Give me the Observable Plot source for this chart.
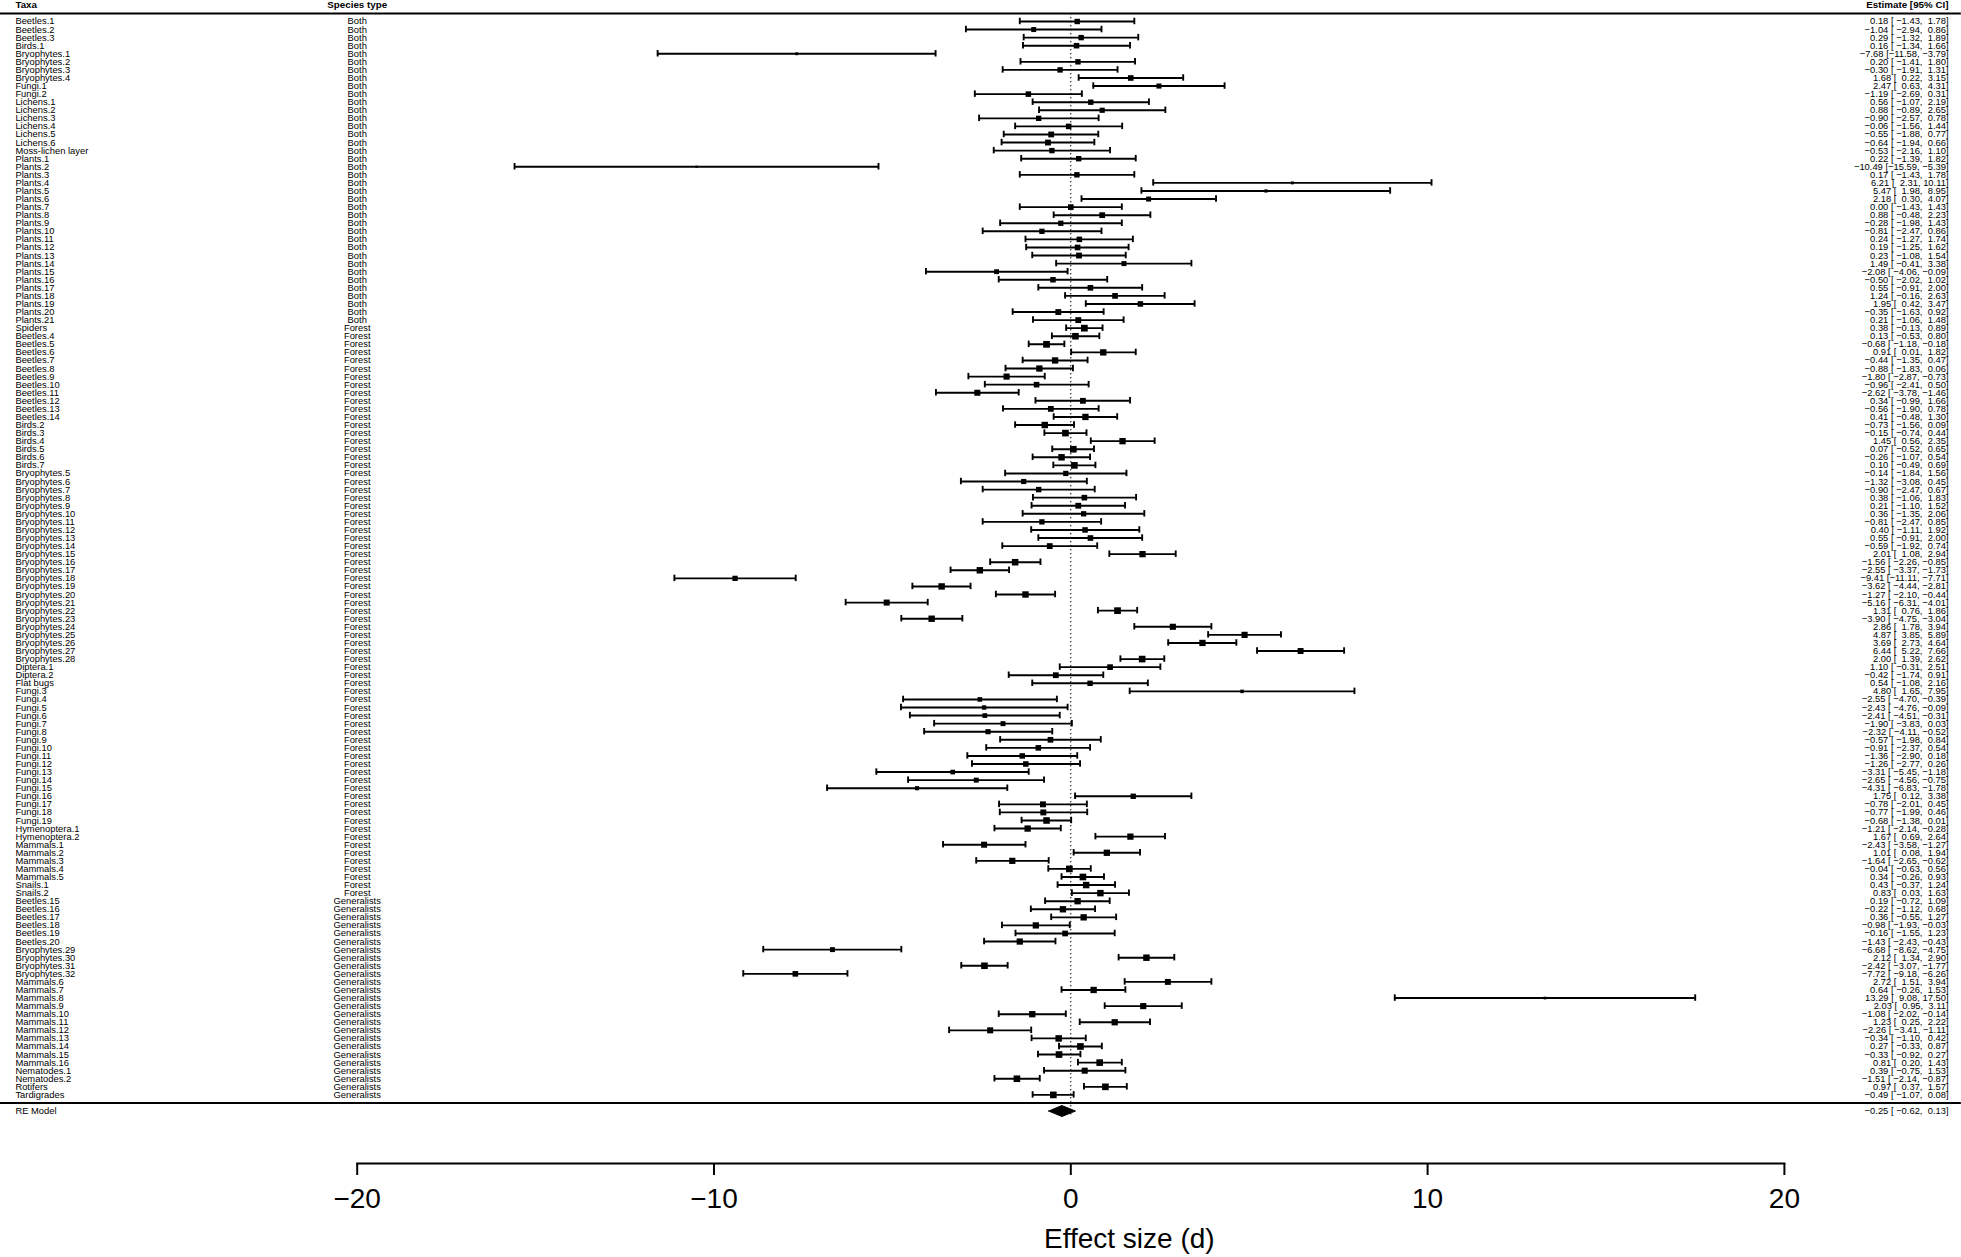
<!DOCTYPE html>
<html><head><meta charset="utf-8">
<script src="https://cdn.jsdelivr.net/npm/d3@7"></script>
<script src="https://cdn.jsdelivr.net/npm/@observablehq/plot@0.6"></script>
<style>
body{margin:0;background:#fff;}
svg text{white-space:pre;}
</style></head><body><div id="chart"></div>
<script>
const taxa = [
"Beetles.1","Beetles.2","Beetles.3","Birds.1","Bryophytes.1","Bryophytes.2","Bryophytes.3","Bryophytes.4","Fungi.1","Fungi.2",
"Lichens.1","Lichens.2","Lichens.3","Lichens.4","Lichens.5","Lichens.6","Moss-lichen layer","Plants.1","Plants.2","Plants.3",
"Plants.4","Plants.5","Plants.6","Plants.7","Plants.8","Plants.9","Plants.10","Plants.11","Plants.12","Plants.13",
"Plants.14","Plants.15","Plants.16","Plants.17","Plants.18","Plants.19","Plants.20","Plants.21",
"Spiders","Beetles.4","Beetles.5","Beetles.6","Beetles.7","Beetles.8","Beetles.9","Beetles.10","Beetles.11","Beetles.12",
"Beetles.13","Beetles.14",
"Birds.2","Birds.3","Birds.4","Birds.5","Birds.6","Birds.7",
"Bryophytes.5","Bryophytes.6","Bryophytes.7","Bryophytes.8","Bryophytes.9","Bryophytes.10","Bryophytes.11","Bryophytes.12","Bryophytes.13","Bryophytes.14",
"Bryophytes.15","Bryophytes.16","Bryophytes.17","Bryophytes.18","Bryophytes.19","Bryophytes.20","Bryophytes.21","Bryophytes.22","Bryophytes.23","Bryophytes.24",
"Bryophytes.25","Bryophytes.26","Bryophytes.27","Bryophytes.28",
"Diptera.1","Diptera.2","Flat bugs",
"Fungi.3","Fungi.4","Fungi.5","Fungi.6","Fungi.7","Fungi.8","Fungi.9","Fungi.10","Fungi.11","Fungi.12",
"Fungi.13","Fungi.14","Fungi.15","Fungi.16","Fungi.17","Fungi.18","Fungi.19",
"Hymenoptera.1","Hymenoptera.2",
"Mammals.1","Mammals.2","Mammals.3","Mammals.4","Mammals.5",
"Snails.1","Snails.2",
"Beetles.15","Beetles.16","Beetles.17","Beetles.18","Beetles.19","Beetles.20","Bryophytes.29","Bryophytes.30","Bryophytes.31","Bryophytes.32",
"Mammals.6","Mammals.7","Mammals.8","Mammals.9","Mammals.10","Mammals.11","Mammals.12","Mammals.13","Mammals.14","Mammals.15",
"Mammals.16","Nematodes.1","Nematodes.2","Rotifers","Tardigrades"
];

const speciesType = [
"Both","Both","Both","Both","Both","Both","Both","Both","Both","Both",
"Both","Both","Both","Both","Both","Both","Both","Both","Both","Both",
"Both","Both","Both","Both","Both","Both","Both","Both","Both","Both",
"Both","Both","Both","Both","Both","Both","Both","Both",
"Forest","Forest","Forest","Forest","Forest","Forest","Forest","Forest","Forest","Forest",
"Forest","Forest",
"Forest","Forest","Forest","Forest","Forest","Forest",
"Forest","Forest","Forest","Forest","Forest","Forest","Forest","Forest","Forest","Forest",
"Forest","Forest","Forest","Forest","Forest","Forest","Forest","Forest","Forest","Forest",
"Forest","Forest","Forest","Forest",
"Forest","Forest","Forest",
"Forest","Forest","Forest","Forest","Forest","Forest","Forest","Forest","Forest","Forest",
"Forest","Forest","Forest","Forest","Forest","Forest","Forest",
"Forest","Forest",
"Forest","Forest","Forest","Forest","Forest",
"Forest","Forest",
"Generalists","Generalists","Generalists","Generalists","Generalists","Generalists","Generalists","Generalists","Generalists","Generalists",
"Generalists","Generalists","Generalists","Generalists","Generalists","Generalists","Generalists","Generalists","Generalists","Generalists",
"Generalists","Generalists","Generalists","Generalists","Generalists"
];

const estimate = [
0.18,-1.04,0.29,0.16,-7.68,0.20,-0.30,1.68,2.47,-1.19,
0.56,0.88,-0.90,-0.06,-0.55,-0.64,-0.53,0.22,-10.49,0.17,
6.21,5.47,2.18,0.00,0.88,-0.28,-0.81,0.24,0.19,0.23,
1.49,-2.08,-0.50,0.55,1.24,1.95,-0.35,0.21,
0.38,0.13,-0.68,0.91,-0.44,-0.88,-1.80,-0.96,-2.62,0.34,
-0.56,0.41,
-0.73,-0.15,1.45,0.07,-0.26,0.10,
-0.14,-1.32,-0.90,0.38,0.21,0.36,-0.81,0.40,0.55,-0.59,
2.01,-1.56,-2.55,-9.41,-3.62,-1.27,-5.16,1.31,-3.90,2.86,
4.87,3.69,6.44,2.00,
1.10,-0.42,0.54,
4.80,-2.55,-2.43,-2.41,-1.90,-2.32,-0.57,-0.91,-1.36,-1.26,
-3.31,-2.65,-4.31,1.75,-0.78,-0.77,-0.68,
-1.21,1.67,
-2.43,1.01,-1.64,-0.04,0.34,
0.43,0.83,
0.19,-0.22,0.36,-0.98,-0.16,-1.43,-6.68,2.12,-2.42,-7.72,
2.72,0.64,13.29,2.03,-1.08,1.23,-2.26,-0.34,0.27,-0.33,
0.81,0.39,-1.51,0.97,-0.49
];

const lower = [
-1.43,-2.94,-1.32,-1.34,-11.58,-1.41,-1.91,0.22,0.63,-2.69,
-1.07,-0.89,-2.57,-1.56,-1.88,-1.94,-2.16,-1.39,-15.59,-1.43,
2.31,1.98,0.30,-1.43,-0.48,-1.98,-2.47,-1.27,-1.25,-1.08,
-0.41,-4.06,-2.02,-0.91,-0.16,0.42,-1.63,-1.06,
-0.13,-0.53,-1.18,0.01,-1.35,-1.83,-2.87,-2.41,-3.78,-0.99,
-1.90,-0.48,
-1.56,-0.74,0.56,-0.52,-1.07,-0.49,
-1.84,-3.08,-2.47,-1.06,-1.10,-1.35,-2.47,-1.11,-0.91,-1.92,
1.08,-2.26,-3.37,-11.11,-4.44,-2.10,-6.31,0.76,-4.75,1.78,
3.85,2.73,5.22,1.39,
-0.31,-1.74,-1.08,
1.65,-4.70,-4.76,-4.51,-3.83,-4.11,-1.98,-2.37,-2.90,-2.77,
-5.45,-4.56,-6.83,0.12,-2.01,-1.99,-1.38,
-2.14,0.69,
-3.58,0.08,-2.65,-0.63,-0.26,
-0.37,0.03,
-0.72,-1.12,-0.55,-1.93,-1.55,-2.43,-8.62,1.34,-3.07,-9.18,
1.51,-0.26,9.08,0.95,-2.02,0.25,-3.41,-1.10,-0.33,-0.92,
0.20,-0.75,-2.14,0.37,-1.07
];

const upper = [
1.78,0.86,1.89,1.66,-3.79,1.80,1.31,3.15,4.31,0.31,
2.19,2.65,0.78,1.44,0.77,0.66,1.10,1.82,-5.39,1.78,
10.11,8.95,4.07,1.43,2.23,1.43,0.86,1.74,1.62,1.54,
3.38,-0.09,1.02,2.00,2.63,3.47,0.92,1.48,
0.89,0.80,-0.18,1.82,0.47,0.06,-0.73,0.50,-1.46,1.66,
0.78,1.30,
0.09,0.44,2.35,0.65,0.54,0.69,
1.56,0.45,0.67,1.83,1.52,2.06,0.85,1.92,2.00,0.74,
2.94,-0.85,-1.73,-7.71,-2.81,-0.44,-4.01,1.86,-3.04,3.94,
5.89,4.64,7.66,2.62,
2.51,0.91,2.16,
7.95,-0.39,-0.09,-0.31,0.03,-0.52,0.84,0.54,0.18,0.26,
-1.18,-0.75,-1.78,3.38,0.45,0.46,0.01,
-0.28,2.64,
-1.27,1.94,-0.62,0.56,0.93,
1.24,1.63,
1.09,0.68,1.27,-0.03,1.23,-0.43,-4.75,2.90,-1.77,-6.26,
3.94,1.53,17.50,3.11,-0.14,2.22,-1.11,0.42,0.87,0.27,
1.43,1.53,-0.87,1.57,0.08
];

const summaryLabel = "RE Model";
const summaryEstimate = -0.25;
const summaryLower = -0.62;
const summaryUpper = 0.13;

const xTicks = [-20, -10, 0, 10, 20];
const headers = {taxa: "Taxa", type: "Species type", est: "Estimate [95% CI]"};
const xLabel = "Effect size (d)";

// ---------- layout (data-unit positions, like R's xlim / ilab.xpos) ----------
const xlim = [-30.0, 24.96];
const labelX = -29.58, typeX = -20.0, estX = 24.6;
const FONT = "Liberation Sans, Arial, Helvetica, sans-serif";
const ROWFONT = 9.4, HEADFONT = 9.8;
const tau2 = 2.0;   // between-study variance used for random-effects point weights

const fmt = v => (v < 0 ? "\u2212" : "") + Math.abs(v).toFixed(2);
const ciText = (e, l, u) => fmt(e).padStart(6, " ") + " [" + fmt(l).padStart(6, " ") + ", " + fmt(u).padStart(5, " ") + "]";

const k = taxa.length;
const rows = taxa.map((t, i) => {
  const se = (upper[i] - lower[i]) / 3.92;
  return {
    i, taxa: t, type: speciesType[i], est: estimate[i], lb: lower[i], ub: upper[i],
    w: 1 / (se * se + tau2),
    label: ciText(estimate[i], lower[i], upper[i])
  };
});
const wMin = d3.min(rows, d => d.w), wMax = d3.max(rows, d => d.w);
rows.forEach(d => d.psize = 0.5 + (d.w - wMin) / (wMax - wMin));

const sumRow = k + 1;
const sepRow = k;
const headRow = -2, topLine = -1;
const dh = 0.68;

const diamond = [
  {x: summaryLower, y: sumRow},
  {x: summaryEstimate, y: sumRow - dh},
  {x: summaryUpper, y: sumRow},
  {x: summaryEstimate, y: sumRow + dh},
  {x: summaryLower, y: sumRow}
];

const chart = Plot.plot({
  width: 1961,
  height: 1257,
  marginLeft: 356.7,
  marginRight: 177.1,
  marginTop: 0,
  marginBottom: 94,
  style: {fontFamily: FONT, background: "#fff", color: "#000", overflow: "visible"},
  x: {domain: [-20, 20], ticks: xTicks},
  y: {domain: [-2.6, 141.5], reverse: true, axis: null},
  r: {type: "linear", domain: [0.5, 1.5], range: [1.27, 3.8]},
  marks: [
    Plot.ruleY([topLine, sepRow], {x1: xlim[0], x2: xlim[1], strokeWidth: 2, stroke: "#000"}),
    Plot.ruleX([0], {y1: topLine, y2: sumRow + 0.7, stroke: "#000", strokeWidth: 1, strokeDasharray: "1.5,2.5"}),
    Plot.ruleY(rows, {y: "i", x1: "lb", x2: "ub", stroke: "#000", strokeWidth: 1.9}),
    Plot.ruleX(rows, {x: "lb", y1: d => d.i - 0.4, y2: d => d.i + 0.4, stroke: "#000", strokeWidth: 1.9}),
    Plot.ruleX(rows, {x: "ub", y1: d => d.i - 0.4, y2: d => d.i + 0.4, stroke: "#000", strokeWidth: 1.9}),
    Plot.dot(rows, {x: "est", y: "i", r: "psize", symbol: "square", fill: "#000", stroke: null}),
    Plot.line(diamond, {x: "x", y: "y", fill: "#000", stroke: "#000", strokeWidth: 1}),
    Plot.text(rows, {x: labelX, y: "i", text: "taxa", textAnchor: "start", fontSize: ROWFONT, fill: "#000"}),
    Plot.text(rows, {x: typeX, y: "i", text: "type", textAnchor: "middle", fontSize: ROWFONT, fill: "#000"}),
    Plot.text(rows, {x: estX, y: "i", text: "label", textAnchor: "end", fontSize: ROWFONT, fill: "#000"}),
    Plot.text([summaryLabel], {x: labelX, y: sumRow, text: d => d, textAnchor: "start", fontSize: ROWFONT, fill: "#000"}),
    Plot.text([ciText(summaryEstimate, summaryLower, summaryUpper)], {x: estX, y: sumRow, text: d => d, textAnchor: "end", fontSize: ROWFONT, fill: "#000"}),
    Plot.text([headers.taxa], {x: labelX, y: headRow, text: d => d, textAnchor: "start", fontSize: HEADFONT, fontWeight: "bold", fill: "#000"}),
    Plot.text([headers.type], {x: typeX, y: headRow, text: d => d, textAnchor: "middle", fontSize: HEADFONT, fontWeight: "bold", fill: "#000"}),
    Plot.text([headers.est], {x: estX, y: headRow, text: d => d, textAnchor: "end", fontSize: HEADFONT, fontWeight: "bold", fill: "#000"}),
    Plot.frame({anchor: "bottom", stroke: "#000", strokeWidth: 2}),
    Plot.axisX({ticks: xTicks, tickSize: 12, tickPadding: 13, fontSize: 28, strokeWidth: 2,
      tickFormat: d => (d < 0 ? "\u2212" + (-d) : String(d)), label: null}),
    Plot.text([xLabel], {x: 1.64, y: 150.8, text: d => d, textAnchor: "middle", fontSize: 28, fill: "#000"})
  ]
});
document.getElementById("chart").appendChild(chart);
</script>
</body></html>
